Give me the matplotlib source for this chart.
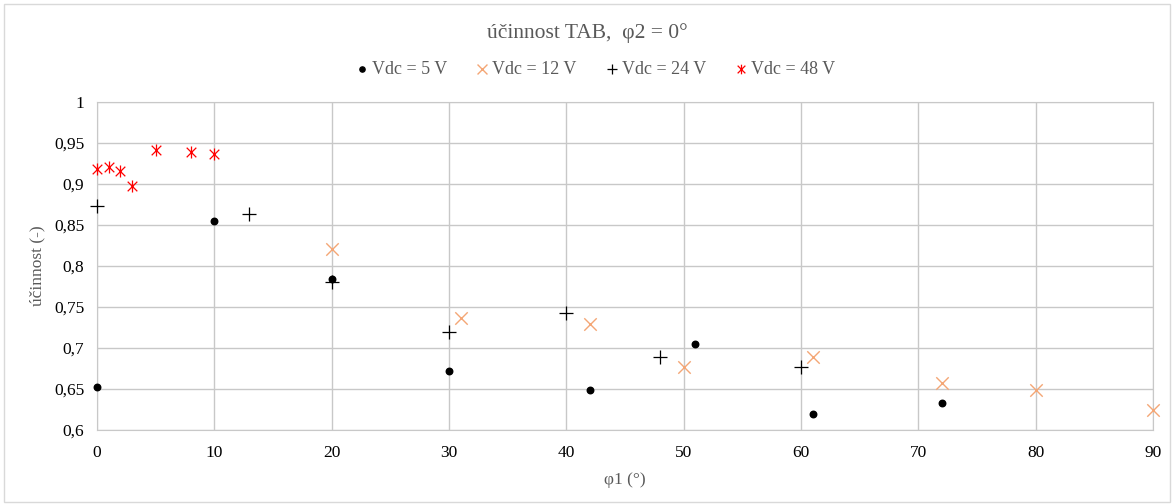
import matplotlib

matplotlib.use("Agg")
import matplotlib.pyplot as plt
from matplotlib.patches import Rectangle
from matplotlib.path import Path
from matplotlib.ticker import FuncFormatter, MultipleLocator

plt.rcParams["font.family"] = ["Liberation Serif", "DejaVu Serif"]

# data
phi_5 = [0, 10, 20, 30, 42, 51, 61, 72]
eta_5 = [0.652, 0.855, 0.784, 0.672, 0.649, 0.705, 0.620, 0.633]

phi_12 = [20, 31, 42, 50, 61, 72, 80, 90]
eta_12 = [0.821, 0.737, 0.729, 0.677, 0.689, 0.657, 0.649, 0.624]

phi_24 = [0, 13, 20, 30, 40, 48, 60]
eta_24 = [0.873, 0.863, 0.780, 0.720, 0.743, 0.689, 0.677]

phi_48 = [0, 1, 2, 3, 5, 8, 10]
eta_48 = [0.918, 0.921, 0.916, 0.897, 0.941, 0.939, 0.937]

# asterisk marker like Excel's: x with a vertical bar
star = Path(
    [(-1, -1), (1, 1), (-1, 1), (1, -1), (0, -1.25), (0, 1.25)],
    [Path.MOVETO, Path.LINETO, Path.MOVETO, Path.LINETO, Path.MOVETO, Path.LINETO],
)

text_gray = "#595959"
grid_gray = "#c8c8c8"

fig = plt.figure(figsize=(11.74, 5.04), dpi=100)
fig.patches.append(
    Rectangle((0.003, 0.003), 0.994, 0.990, transform=fig.transFigure,
              fill=False, edgecolor="#d9d9d9", lw=1)
)
ax = fig.add_axes([0.0826, 0.1468, 0.8994, 0.6508])

ax.scatter(phi_5, eta_5, marker="o", s=22, color="black", label="Vdc = 5 V", zorder=3)
ax.scatter(phi_12, eta_12, marker="x", s=80, color="#f4a675", linewidths=1.0,
           label="Vdc = 12 V", zorder=3)
ax.scatter(phi_24, eta_24, marker="+", s=90, color="black", linewidths=0.9,
           label="Vdc = 24 V", zorder=3)
ax.scatter(phi_48, eta_48, marker=star, s=75, color="red", linewidths=0.9,
           label="Vdc = 48 V", zorder=3)

ax.set_xlim(0, 90)
ax.set_ylim(0.6, 1.0)
ax.xaxis.set_major_locator(MultipleLocator(10))
ax.yaxis.set_major_locator(MultipleLocator(0.05))
ax.yaxis.set_major_formatter(FuncFormatter(lambda v, _: f"{v:g}".replace(".", ",")))
ax.grid(True, color=grid_gray, lw=1)
ax.set_axisbelow(True)
for sp in ax.spines.values():
    sp.set_color(grid_gray)
ax.tick_params(length=0, labelsize=12.5, colors="black")
ax.tick_params(axis="x", pad=11)
ax.tick_params(axis="y", pad=9)
for c in ax.collections:
    c.set_clip_on(False)

ax.set_xlabel("φ1 (°)", fontsize=12.5, color=text_gray, labelpad=8)
ax.set_ylabel("účinnost (-)", fontsize=12.5, color=text_gray, labelpad=6)

fig.text(0.5, 0.935, "účinnost TAB,  φ2 = 0°", ha="center", va="center",
         fontsize=15.5, color=text_gray)
fig.legend(loc="center", bbox_to_anchor=(0.505, 0.862), ncol=4, frameon=False,
           fontsize=13, handletextpad=-0.1, columnspacing=1.3, handlelength=1.3,
           markerscale=0.8, labelcolor=text_gray)

fig.savefig("out.png", dpi=100)
plt.close(fig)
